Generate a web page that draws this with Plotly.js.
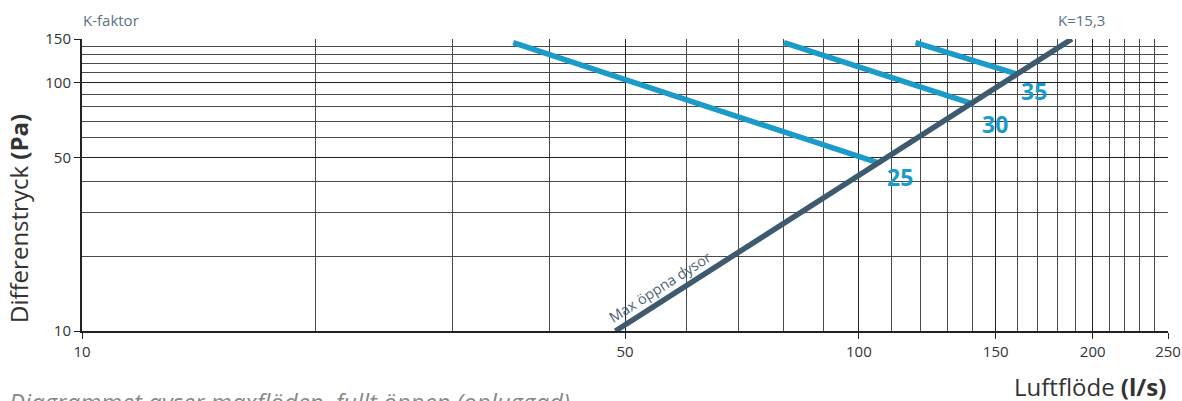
<!DOCTYPE html>
<html>
<head>
<meta charset="utf-8">
<script src="https://cdn.plot.ly/plotly-3.0.1.min.js"></script>
<style>
html,body{margin:0;padding:0;background:#fff;}
#chart{width:1182px;height:401px;}
</style>
</head>
<body>
<div id="chart"></div>
<script>
// ---- Data ----
const maxFlow = [48.6, 188];      // l/s, "Max öppna dysor" (K=15,3)
const maxDp   = [10, 150];        // Pa
const k25Flow = [35.9, 106.2];
const k25Dp   = [145, 47.4];
const k30Flow = [80.1, 140.8];
const k30Dp   = [145, 81.8];
const k35Flow = [118.3, 160.3];
const k35Dp   = [145, 108];

const xTickVals = [10, 50, 100, 150, 200, 250];
const xTickText = ['10', '50', '100', '150', '200', '250'];
const xGridVals = [20,30,40,60,70,80,90,110,120,130,140,160,170,180,190,210,220,230,240];
const yTickVals = [10, 50, 100, 150];
const yTickText = ['10', '50', '100', '150'];
const yGridVals = [20,30,40,60,70,80,90,110,120,130,140];

// ---- Layout helpers (pixel -> paper) ----
const W = 1182, H = 401;
const M = {l: 82, r: 14, t: 39, b: 70};
const PW = W - M.l - M.r, PH = H - M.t - M.b;
const px = x => (x - M.l) / PW;
const py = y => (H - M.b - y) / PH;

const FONT = '"Open Sans", "Noto Sans", sans-serif';
const DARK = '#3d5a6e';
const BLUE = '#1a9bc9';
const LABEL = '#5a7384';

const traces = [
  {x: k25Flow, y: k25Dp, mode: 'lines', line: {color: BLUE, width: 5.5}, hoverinfo: 'skip'},
  {x: k30Flow, y: k30Dp, mode: 'lines', line: {color: BLUE, width: 5.5}, hoverinfo: 'skip'},
  {x: k35Flow, y: k35Dp, mode: 'lines', line: {color: BLUE, width: 5.5}, hoverinfo: 'skip'},
  {x: maxFlow, y: maxDp, mode: 'lines', line: {color: DARK, width: 5.5}, hoverinfo: 'skip'}
];

const ann = (text, x, y, opts) => Object.assign({
  text: text, xref: 'paper', yref: 'paper', x: px(x), y: py(y),
  showarrow: false, xanchor: 'center', yanchor: 'middle'
}, opts || {});

const annotations = [
  ann('K-faktor', 81, 20, {xanchor: 'left', font: {family: FONT, size: 15, color: LABEL}}),
  ann('K=15,3', 1107, 20, {xanchor: 'right', font: {family: FONT, size: 15, color: LABEL}}),
  ann('<b>25</b>', 900, 177, {font: {family: FONT, size: 23, color: BLUE}}),
  ann('<b>30</b>', 995, 124, {font: {family: FONT, size: 23, color: BLUE}}),
  ann('<b>35</b>', 1034, 91, {font: {family: FONT, size: 23, color: BLUE}}),
  ann('Max öppna dysor', 659, 287, {textangle: -32.5, font: {family: FONT, size: 14.5, color: '#4a6477'}}),
  ann('Differenstryck <b>(Pa)</b>', 18, 219, {textangle: -90, font: {family: FONT, size: 24, color: '#333'}}),
  ann('Luftflöde <b>(l/s)</b>', 1168, 387, {xanchor: 'right', font: {family: FONT, size: 24, color: '#333'}}),
  ann('<i>Diagrammet avser maxflöden, fullt öppen (opluggad)</i>', 7, 383, {xanchor: 'left', yanchor: 'top', font: {family: FONT, size: 24, color: '#888'}})
];

const layout = {
  width: W, height: H,
  margin: M,
  paper_bgcolor: '#fff', plot_bgcolor: '#fff',
  showlegend: false,
  font: {family: FONT, color: '#333'},
  xaxis: {
    type: 'log', range: [1, Math.log10(250)],
    tickmode: 'array', tickvals: xTickVals, ticktext: xTickText,
    ticks: 'outside', ticklen: 6, tickwidth: 1, tickcolor: '#222',
    tickfont: {family: FONT, size: 15, color: '#333'},
    showgrid: true, gridcolor: '#222', gridwidth: 1,
    minor: {tickmode: 'array', tickvals: xGridVals, showgrid: true, gridcolor: '#4a4a4a', gridwidth: 1, ticks: ''},
    showline: true, linecolor: '#222', linewidth: 2,
    zeroline: false, fixedrange: true
  },
  yaxis: {
    type: 'log', range: [1, Math.log10(150)],
    tickmode: 'array', tickvals: yTickVals, ticktext: yTickText,
    ticks: 'outside', ticklen: 6, tickwidth: 1, tickcolor: '#222',
    tickfont: {family: FONT, size: 15, color: '#333'},
    showgrid: true, gridcolor: '#222', gridwidth: 1,
    minor: {tickmode: 'array', tickvals: yGridVals, showgrid: true, gridcolor: '#4a4a4a', gridwidth: 1, ticks: ''},
    showline: true, linecolor: '#222', linewidth: 2,
    zeroline: false, fixedrange: true
  },
  annotations: annotations
};

Plotly.newPlot('chart', traces, layout, {displayModeBar: false, staticPlot: true});
</script>
</body>
</html>
